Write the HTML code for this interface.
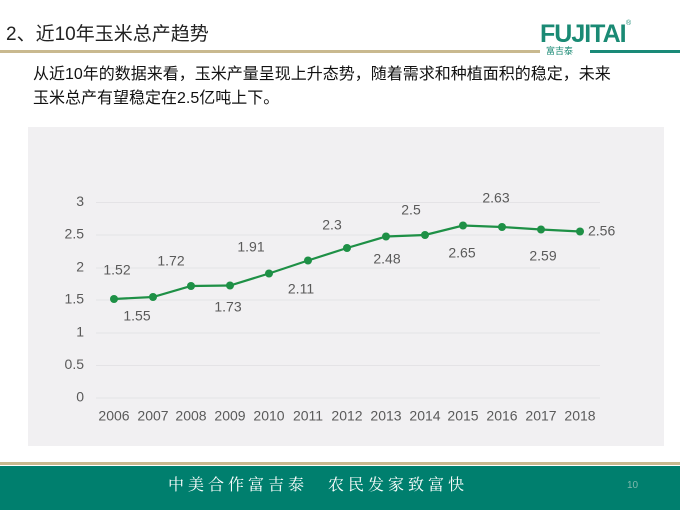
<!DOCTYPE html>
<html><head><meta charset="utf-8"><style>
body{margin:0;width:680px;height:510px;background:#fff;position:relative;overflow:hidden;font-family:"Liberation Sans","Noto Sans CJK SC",sans-serif}
.t{position:absolute;white-space:nowrap}
</style></head><body>
<div class="t" style="left:6px;top:19px;font-size:19px;color:#222">2、近10年玉米总产趋势</div>
<div style="position:absolute;left:0;top:50px;width:540px;height:3px;background:#c9b98f"></div>
<div style="position:absolute;left:590px;top:50px;width:90px;height:3px;background:#1a8a78"></div>
<div class="t" style="left:540px;top:20px;font-size:25px;font-weight:bold;color:#1a8a74;letter-spacing:-1px">FUJITAI</div>
<div class="t" style="left:546px;top:44px;font-size:9px;color:#1a8a74">富吉泰</div>
<div class="t" style="left:626px;top:20px;font-size:7px;color:#1a8a74">®</div>
<div class="t" style="left:33px;top:63px;font-size:16px;line-height:24px;color:#111">从近10年的数据来看，玉米产量呈现上升态势，随着需求和种植面积的稳定，未来<br>玉米总产有望稳定在2.5亿吨上下。</div>
<div style="position:absolute;left:28px;top:127px;width:636px;height:319px;background:#f1f0f2"></div>
<div style="position:absolute;left:0;top:462px;width:680px;height:3px;background:#c9b98f"></div>
<div style="position:absolute;left:0;top:466px;width:680px;height:44px;background:#007f6e"></div>
<div class="t" style="left:168px;top:472px;font-size:16px;color:#fff;letter-spacing:4px;font-family:'Noto Serif CJK SC',serif">中美合作富吉泰　农民发家致富快</div>
<div class="t" style="left:627px;top:480px;font-size:10px;color:#7fb8ad">10</div>
<svg width="680" height="510" style="position:absolute;left:0;top:0" font-family="Liberation Sans,sans-serif" font-size="14" fill="#5a5a5a">
<g stroke="#e4e3e6" stroke-width="1">
<line x1="96" x2="600" y1="398" y2="398"/><line x1="96" x2="600" y1="365.5" y2="365.5"/><line x1="96" x2="600" y1="333" y2="333"/><line x1="96" x2="600" y1="300" y2="300"/><line x1="96" x2="600" y1="268" y2="268"/><line x1="96" x2="600" y1="235" y2="235"/><line x1="96" x2="600" y1="202.5" y2="202.5"/>
</g>
<g text-anchor="end" dominant-baseline="middle">
<text x="84" y="398">0</text><text x="84" y="365.5">0.5</text><text x="84" y="333">1</text><text x="84" y="300">1.5</text><text x="84" y="268">2</text><text x="84" y="235">2.5</text><text x="84" y="202.5">3</text>
</g>
<g text-anchor="middle" dominant-baseline="middle">
<text x="114" y="417">2006</text><text x="153" y="417">2007</text><text x="191" y="417">2008</text><text x="230" y="417">2009</text><text x="269" y="417">2010</text><text x="308" y="417">2011</text><text x="347" y="417">2012</text><text x="386" y="417">2013</text><text x="425" y="417">2014</text><text x="463" y="417">2015</text><text x="502" y="417">2016</text><text x="541" y="417">2017</text><text x="580" y="417">2018</text>
<text x="117" y="271">1.52</text><text x="137" y="317">1.55</text><text x="171" y="262">1.72</text><text x="228" y="308">1.73</text><text x="251" y="248">1.91</text><text x="301" y="290">2.11</text><text x="332" y="226">2.3</text><text x="387" y="260">2.48</text><text x="411" y="211">2.5</text><text x="462" y="254">2.65</text><text x="496" y="199">2.63</text><text x="543" y="257">2.59</text>
</g>
<text x="588" y="232" dominant-baseline="middle">2.56</text>
<polyline fill="none" stroke="#1e9046" stroke-width="2.2" points="114,299 153,297 191,286 230,285.5 269,273.5 308,260.5 347,248 386,236.5 425,235 463,225.5 502,227 541,229.5 580,231.5"/>
<g fill="#1e9046">
<circle cx="114" cy="299" r="4"/><circle cx="153" cy="297" r="4"/><circle cx="191" cy="286" r="4"/><circle cx="230" cy="285.5" r="4"/><circle cx="269" cy="273.5" r="4"/><circle cx="308" cy="260.5" r="4"/><circle cx="347" cy="248" r="4"/><circle cx="386" cy="236.5" r="4"/><circle cx="425" cy="235" r="4"/><circle cx="463" cy="225.5" r="4"/><circle cx="502" cy="227" r="4"/><circle cx="541" cy="229.5" r="4"/><circle cx="580" cy="231.5" r="4"/>
</g>
</svg>
</body></html>
